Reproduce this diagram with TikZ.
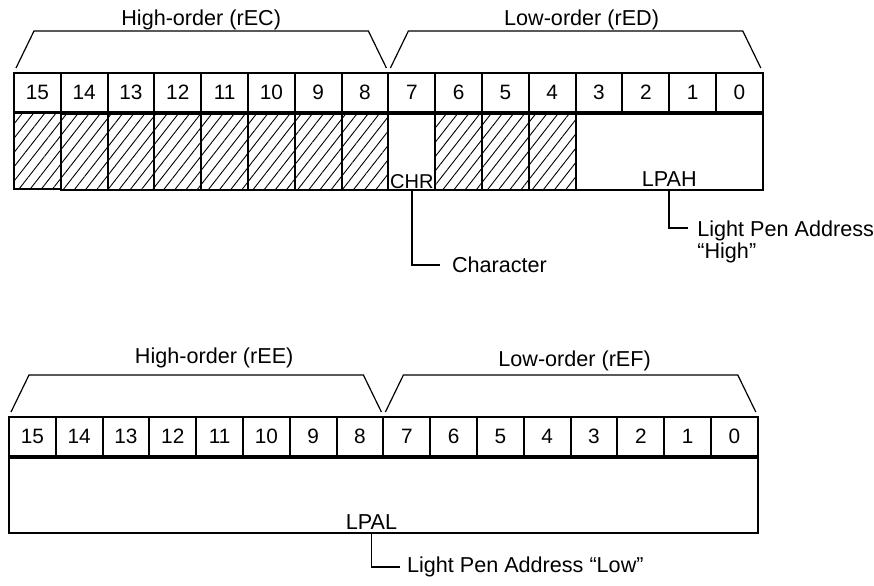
\documentclass[tikz,border=0pt]{standalone}
\usepackage{fontspec}
\setmainfont{Liberation Sans}
\usetikzlibrary{positioning,patterns.meta,calc}

\begin{document}
\begin{tikzpicture}[
  x=0.5pt, y=-0.5pt,
  font=\fontsize{10.8}{12}\selectfont,
  bit/.style={draw, line width=1pt, minimum width=23.4pt, minimum height=19.5pt,
              inner sep=0pt, font=\fontsize{10.4}{12}\selectfont},
  hatch/.style={draw, line width=1pt, minimum width=23.4pt, minimum height=38pt,
                inner sep=0pt, pattern={Lines[angle=52,distance=4.4pt,line width=0.45pt]}},
  field/.style={draw, line width=1pt, minimum height=38pt, inner sep=0pt},
  brace/.style={line width=0.6pt},
  lead/.style={line width=0.8pt},
]
\useasboundingbox (0,0) rectangle (874,585);
% upper register (rEC/rED)
\foreach \b in {0,...,15}
  \node[bit, anchor=north west] (a\b) at ({13+46.8*(15-\b)},72) {\b};
\foreach \b in {15,14,...,8,6,5,4}
  \node[hatch, below=0pt of a\b] (h\b) {};
\node[field, minimum width=23.4pt, below=0pt of a7] (chr) {};
\node[anchor=south, inner sep=1pt, font=\fontsize{10}{12}\selectfont] (chrtxt) at (chr.south) {CHR};
\node[field, minimum width=93.6pt, anchor=north west] (lpah) at (a3.south west) {};
\node[anchor=south, inner sep=2pt] (lpahtxt) at (lpah.south) {LPAH};
% brackets
\draw[brace] ($(a15.north west)+(3,-4)$) -- ($(a15.north west)+(21,-41)$)
  -- node[anchor=south, inner sep=0pt] (hiec) {High-order (rEC)}
  ($(a8.north east)+(-21,-41)$) -- ($(a8.north east)+(-3,-4)$);
\draw[brace] ($(a7.north west)+(3,-4)$) -- ($(a7.north west)+(21,-41)$)
  -- node[anchor=south, inner sep=0pt, xshift=3pt] (loed) {Low-order (rED)}
  ($(a0.north east)+(-21,-41)$) -- ($(a0.north east)+(-3,-4)$);
% leaders
\node[anchor=west] (chardesc) at (445,265) {Character};
\draw[lead] (chr.south) |- ($(chardesc.west)+(-5,0)$);
\node[anchor=north west, align=left, inner sep=0pt, font=\fontsize{10.8}{11}\selectfont]
  (lpahdesc) at (697,220) {Light Pen Address\\``High''};
\draw[lead] (lpah.south) |- ($(lpahdesc.north west)+(-9,8)$);

% lower register (rEE/rEF)
\foreach \b in {0,...,15}
  \node[bit, anchor=north west] (b\b) at ({8+46.8*(15-\b)},416) {\b};
\node[field, minimum width=374.4pt, minimum height=37.5pt, anchor=north west] (lpal) at (b15.south west) {};
\node[anchor=south, inner sep=2pt] (lpaltxt) at ([xshift=-6pt]lpal.south) {LPAL};
\draw[brace] ($(b15.north west)+(3,-4)$) -- ($(b15.north west)+(21,-41)$)
  -- node[above=3pt, inner sep=0pt, xshift=9pt] (hiee) {High-order (rEE)}
  ($(b8.north east)+(-21,-41)$) -- ($(b8.north east)+(-3,-4)$);
\draw[brace] ($(b7.north west)+(3,-4)$) -- ($(b7.north west)+(21,-41)$)
  -- node[above=1.5pt, inner sep=0pt, xshift=2pt] (loef) {Low-order (rEF)}
  ($(b0.north east)+(-21,-41)$) -- ($(b0.north east)+(-3,-4)$);
\node[anchor=west] (lpaldesc) at (400,567) {Light Pen Address ``Low''};
\draw[lead] (lpaltxt.south |- lpal.south) |- (lpaldesc.west);
\end{tikzpicture}
\end{document}
